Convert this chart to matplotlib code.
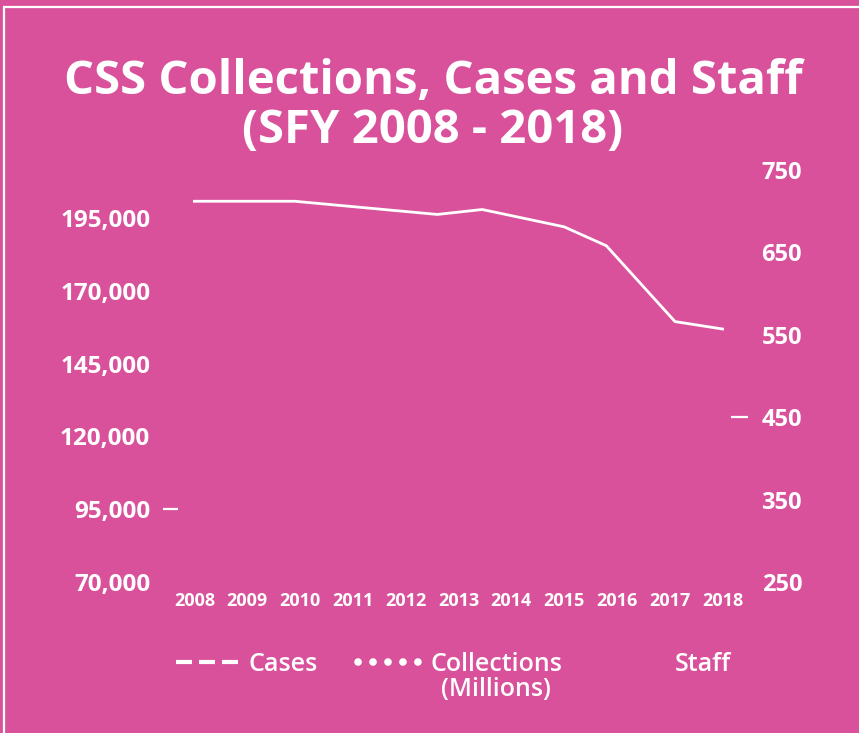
import matplotlib
matplotlib.use("Agg")
import matplotlib.pyplot as plt
from matplotlib.lines import Line2D
from matplotlib.patches import Rectangle

PINK = "#D9519B"
WHITE = "white"

# Staff line (right axis), vertices
staff_x = [2008, 2009.9, 2012.6, 2013.45, 2015.0, 2015.8, 2017.1, 2018]
staff_y = [712, 712, 696, 702, 681, 658, 566, 557]

years = list(range(2008, 2019))
cases_ticks = [70000, 95000, 120000, 145000, 170000, 195000]
staff_ticks = [250, 350, 450, 550, 650, 750]

plt.rcParams["font.family"] = ["Open Sans", "DejaVu Sans"]

fig = plt.figure(figsize=(8.59, 7.33), dpi=100, facecolor=PINK)
ax = fig.add_axes([178 / 859, 1 - 582 / 733, (731 - 178) / 859, (582 - 165) / 733])
ax.set_facecolor("none")
ax2 = ax.twinx()

ax.set_xlim(2007.69, 2018.16)
ax.set_ylim(70000, 213200)
ax2.set_ylim(250, 756)

ax2.plot(staff_x, staff_y, color=WHITE, lw=2.0, solid_joinstyle="miter")

for a in (ax, ax2):
    for s in a.spines.values():
        s.set_visible(False)

ax.set_xticks(years)
ax.set_xticklabels([str(y) for y in years], fontweight="bold", fontsize=13)
ax.tick_params(axis="x", length=0, pad=7, labelcolor=WHITE)

ax.set_yticks(cases_ticks)
ax.set_yticklabels([f"{v:,}" for v in cases_ticks], fontweight="bold", fontsize=17.5)
ax.tick_params(axis="y", length=11, width=1.6, color=WHITE, pad=9, labelcolor=WHITE)
# only one tick mark shows on each side
for v, tk in zip(cases_ticks, ax.yaxis.get_major_ticks()):
    tk.tick1line.set_visible(v == 95000)

ax2.set_yticks(staff_ticks)
ax2.set_yticklabels([str(v) for v in staff_ticks], fontweight="bold", fontsize=17)
ax2.tick_params(axis="y", length=12, width=1.6, color=WHITE, pad=10, labelcolor=WHITE)
for v, tk in zip(staff_ticks, ax2.yaxis.get_major_ticks()):
    tk.tick2line.set_visible(v == 450)

fig.text(0.504, 1 - 106 / 733, "CSS Collections, Cases and Staff\n(SFY 2008 - 2018)",
         ha="center", va="center", color=WHITE, fontsize=34, fontweight="bold",
         linespacing=1.04)

handles = [
    Line2D([], [], color=WHITE, lw=3, dashes=(3.84, 1.68), dash_capstyle="butt"),
    Line2D([], [], color=WHITE, lw=5.5, dashes=(0.01, 1.95), dash_capstyle="round"),
    Line2D([], [], color="none", lw=2),
]
labels = ["Cases", "Collections", "Staff"]
leg = fig.legend(handles, labels, loc="upper left", bbox_to_anchor=(176 / 859, 1 - 652 / 733),
                 ncol=3, frameon=False, fontsize=18, handlelength=2.5, handletextpad=0.4,
                 columnspacing=1.6, borderpad=0, borderaxespad=0)
for t in leg.get_texts():
    t.set_color(WHITE)
    t.set_fontweight("semibold")

fig.text(496 / 859, 1 - 690 / 733, "(Millions)", ha="center", va="center", color=WHITE,
         fontsize=18, fontweight="semibold")

fig.add_artist(Rectangle((4 / 859, -0.1), 1.2, 1.1 - 7 / 733, transform=fig.transFigure,
                         fill=False, edgecolor=WHITE, lw=1.6))

fig.savefig("out.png", dpi=100, facecolor=PINK)
